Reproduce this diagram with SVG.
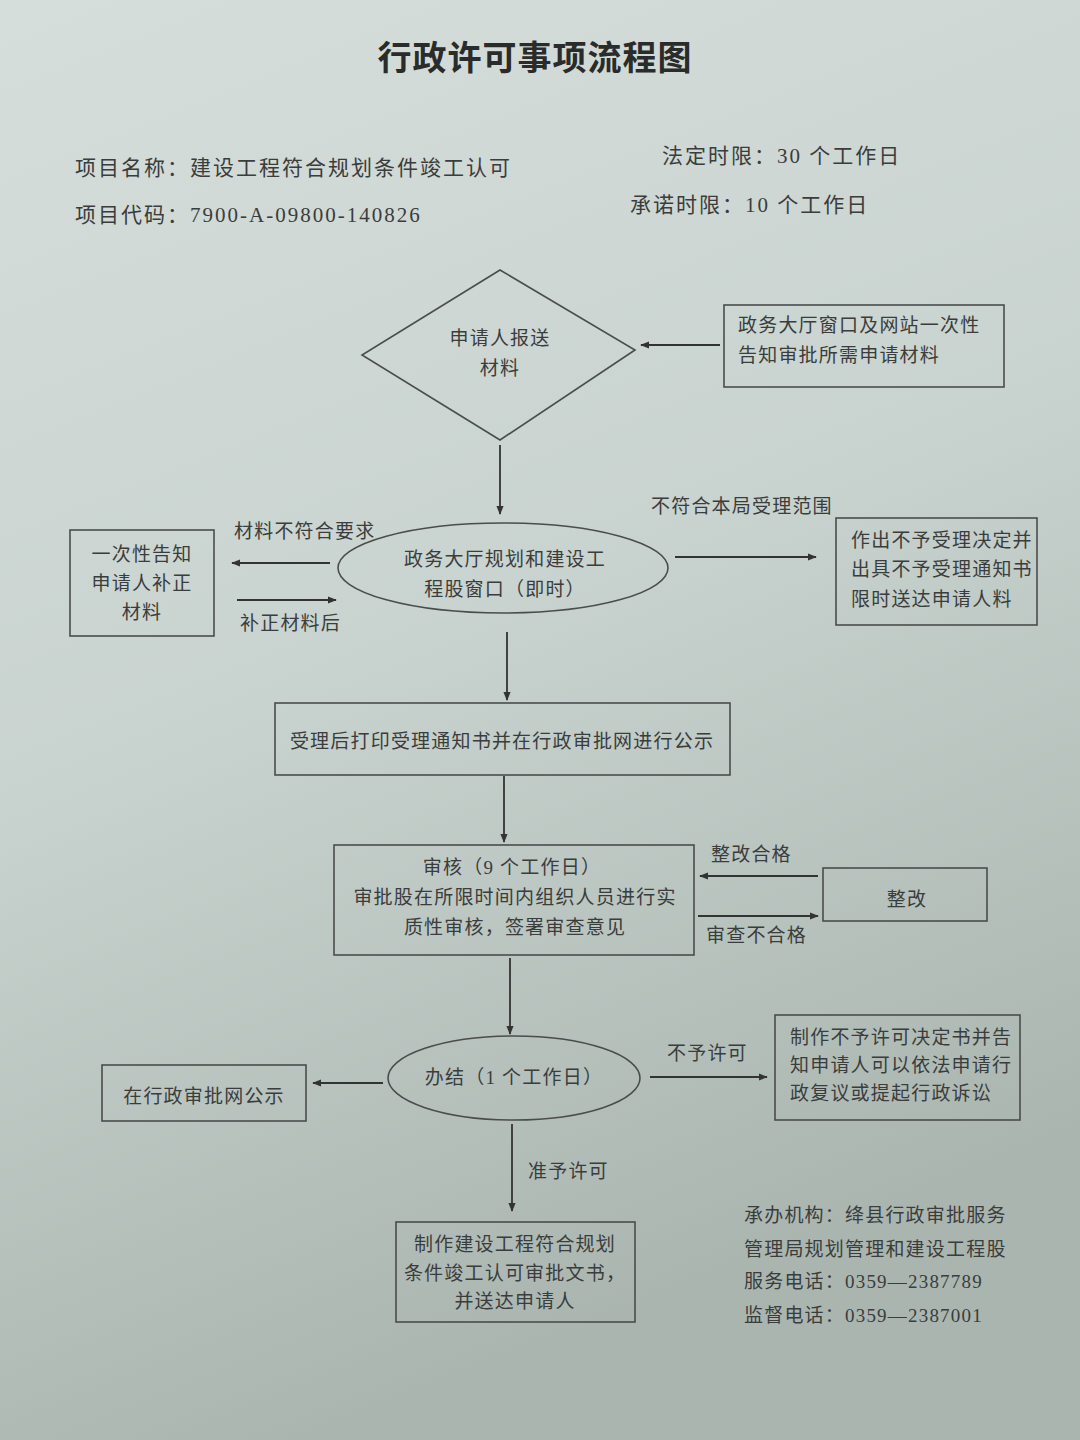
<svg xmlns="http://www.w3.org/2000/svg" width="1080" height="1440" viewBox="0 0 1080 1440">
<defs>
<linearGradient id="bg" x1="0" y1="0" x2="0.3" y2="1">
<stop offset="0" stop-color="#d6dedb"/>
<stop offset="0.5" stop-color="#c9d3cf"/>
<stop offset="1" stop-color="#aab5b0"/>
</linearGradient>
<marker id="ah" viewBox="0 0 10 10" refX="9" refY="5" markerWidth="9" markerHeight="9" markerUnits="userSpaceOnUse" orient="auto">
<path d="M0,1 L10,5 L0,9 z" fill="#333"/>
</marker>
<style>
text{font-family:"Liberation Serif","Noto Sans CJK SC",serif;fill:#3a3d3c;font-size:19px;letter-spacing:1.2px}
.c{text-anchor:middle}
.h{font-size:21px;letter-spacing:2px}
.t{font-size:34px;font-weight:bold;fill:#2a2c2b;letter-spacing:1px}
.s{fill:none;stroke:#4a4d4c;stroke-width:1.6}
.a{fill:none;stroke:#333;stroke-width:1.8;marker-end:url(#ah)}
</style>
</defs>
<rect width="1080" height="1440" fill="url(#bg)"/>
<text class="t c" x="535" y="70">行政许可事项流程图</text>
<g id="header">
<text class="h" x="75" y="175">项目名称：建设工程符合规划条件竣工认可</text>
<text class="h" x="662" y="163">法定时限：30 个工作日</text>
<text class="h" x="75" y="222">项目代码：7900-A-09800-140826</text>
<text class="h" x="630" y="212">承诺时限：10 个工作日</text>
</g>
<g id="connectors">
<line class="a" x1="720" y1="345" x2="641" y2="345"/>
<line class="a" x1="500" y1="445" x2="500" y2="514"/>
<line class="a" x1="330" y1="563" x2="232" y2="563"/>
<line class="a" x1="237" y1="600" x2="336" y2="600"/>
<line class="a" x1="675" y1="557" x2="816" y2="557"/>
<line class="a" x1="507" y1="632" x2="507" y2="700"/>
<line class="a" x1="504" y1="776" x2="504" y2="842"/>
<line class="a" x1="818" y1="876" x2="700" y2="876"/>
<line class="a" x1="698" y1="916" x2="818" y2="916"/>
<line class="a" x1="510" y1="958" x2="510" y2="1034"/>
<line class="a" x1="383" y1="1083" x2="313" y2="1083"/>
<line class="a" x1="650" y1="1077" x2="767" y2="1077"/>
<line class="a" x1="512" y1="1124" x2="512" y2="1211"/>
<text x="234" y="538">材料不符合要求</text>
<text x="240" y="630">补正材料后</text>
<text x="651" y="513">不符合本局受理范围</text>
<text x="711" y="861">整改合格</text>
<text x="706" y="942">审查不合格</text>
<text x="667" y="1060">不予许可</text>
<text x="528" y="1178">准予许可</text>
</g>
<g id="n_apply">
<polygon class="s" points="500,270 635,350 500,440 362,355"/>
<text class="c" x="500" y="345">申请人报送</text>
<text class="c" x="500" y="375">材料</text>
</g>
<g id="n_inform">
<rect class="s" x="724" y="305" width="280" height="82"/>
<text x="738" y="332">政务大厅窗口及网站一次性</text>
<text x="738" y="362">告知审批所需申请材料</text>
</g>
<g id="n_window">
<ellipse class="s" cx="503" cy="568" rx="165" ry="45"/>
<text class="c" x="505" y="566">政务大厅规划和建设工</text>
<text class="c" x="505" y="596">程股窗口（即时）</text>
</g>
<g id="n_correct">
<rect class="s" x="70" y="530" width="144" height="106"/>
<text class="c" x="142" y="561">一次性告知</text>
<text class="c" x="142" y="590">申请人补正</text>
<text class="c" x="142" y="619">材料</text>
</g>
<g id="n_reject">
<rect class="s" x="836" y="518" width="201" height="107"/>
<text x="851" y="547">作出不予受理决定并</text>
<text x="851" y="576">出具不予受理通知书</text>
<text x="851" y="606">限时送达申请人料</text>
</g>
<g id="n_accept">
<rect class="s" x="275" y="703" width="455" height="72"/>
<text class="c" x="502" y="748">受理后打印受理通知书并在行政审批网进行公示</text>
</g>
<g id="n_review">
<rect class="s" x="334" y="845" width="360" height="110"/>
<text class="c" x="512" y="874">审核（9 个工作日）</text>
<text class="c" x="515" y="904">审批股在所限时间内组织人员进行实</text>
<text class="c" x="515" y="934">质性审核，签署审查意见</text>
</g>
<g id="n_rectify">
<rect class="s" x="823" y="868" width="164" height="53"/>
<text class="c" x="907" y="906">整改</text>
</g>
<g id="n_finish">
<ellipse class="s" cx="514" cy="1078" rx="126" ry="42"/>
<text class="c" x="514" y="1084">办结（1 个工作日）</text>
</g>
<g id="n_publish">
<rect class="s" x="102" y="1065" width="204" height="56"/>
<text class="c" x="204" y="1103">在行政审批网公示</text>
</g>
<g id="n_deny">
<rect class="s" x="775" y="1015" width="245" height="105"/>
<text x="790" y="1044">制作不予许可决定书并告</text>
<text x="790" y="1072">知申请人可以依法申请行</text>
<text x="790" y="1100">政复议或提起行政诉讼</text>
</g>
<g id="n_grant">
<rect class="s" x="396" y="1222" width="239" height="100"/>
<text class="c" x="515" y="1251">制作建设工程符合规划</text>
<text class="c" x="515" y="1280">条件竣工认可审批文书，</text>
<text class="c" x="515" y="1308">并送达申请人</text>
</g>
<g id="footer">
<text x="744" y="1222">承办机构：绛县行政审批服务</text>
<text x="744" y="1256">管理局规划管理和建设工程股</text>
<text x="744" y="1288">服务电话：0359—2387789</text>
<text x="744" y="1322">监督电话：0359—2387001</text>
</g>
</svg>
